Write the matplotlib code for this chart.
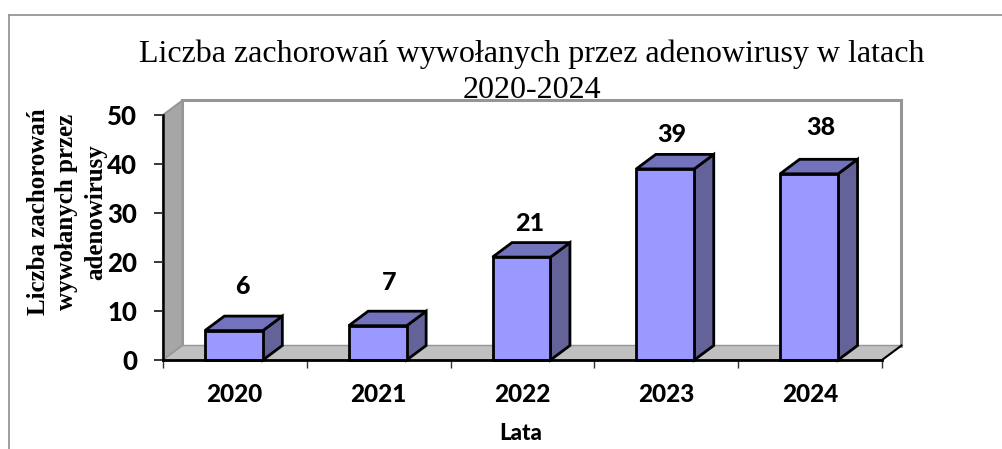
import matplotlib
matplotlib.use('Agg')
import matplotlib.pyplot as plt
from matplotlib.lines import Line2D
from matplotlib.patches import Polygon

years = ['2020', '2021', '2022', '2023', '2024']
cases = [6, 7, 21, 39, 38]
y_ticks = [0, 10, 20, 30, 40, 50]

W, H = 1002, 449
fig = plt.figure(figsize=(W / 100, H / 100), dpi=100)
ax = fig.add_axes([163 / W, 1 - 360 / H, (882 - 163) / W, (360 - 115) / H])
ax.set_xlim(0, len(years))
ax.set_ylim(0, 50)
ax.patch.set_visible(False)

# glebokosc wykresu 3D w jednostkach danych
dx = 19.5 / 144
dy = 14.5 / 4.9
bar_w = 0.403
bar_shift = 0.493
n = len(years)


def poly(points, face, edge, lw, z):
    ax.add_patch(Polygon(points, closed=True, facecolor=face, edgecolor=edge,
                         linewidth=lw, clip_on=False, zorder=z, joinstyle='miter'))


# sciany
poly([(dx, dy), (n + dx, dy), (n + dx, 50 + dy), (dx, 50 + dy)], 'white', '#969696', 2.2, 1)
poly([(0, 0), (dx, dy), (dx, 50 + dy), (0, 50)], '#a6a6a6', '#969696', 1.5, 2)
poly([(0, 0), (n, 0), (n + dx, dy), (dx, dy)], '#c0c0c0', '#969696', 1.0, 2)
ax.plot([n, n + dx], [0, dy], color='black', lw=1.5, clip_on=False, zorder=3)

# slupki
for i, v in enumerate(cases):
    x0 = i + bar_shift - bar_w / 2
    x1 = i + bar_shift + bar_w / 2
    poly([(x1, 0), (x1 + dx, dy), (x1 + dx, v + dy), (x1, v)], '#636399', 'black', 2.0, 4)
    poly([(x0, v), (x1, v), (x1 + dx, v + dy), (x0 + dx, v + dy)], '#7373bd', 'black', 2.0, 4)
    ax.bar(i + bar_shift, v, width=bar_w, color='#9999ff', edgecolor='black', linewidth=2.0,
           zorder=5, clip_on=False)

# etykiety wartosci (przesuniecia z oryginalu)
label_px = [(242, 286), (389, 283), (530, 223), (672, 134), (821, 127)]
for (px, py), v in zip(label_px, cases):
    fig.text(px / W, 1 - py / H, str(v), family='Lato', weight='black', fontsize=18,
             ha='center', va='center', color='black')

for s in ['top', 'right']:
    ax.spines[s].set_visible(False)
ax.spines['left'].set_linewidth(1.8)
ax.spines['bottom'].set_linewidth(2.0)
ax.spines['left'].set_zorder(6)
ax.spines['bottom'].set_zorder(6)

ax.set_yticks(y_ticks)
ax.set_xticks(range(n + 1))
ax.set_xticklabels([])
ax.tick_params(axis='y', length=6.5, width=1.1, pad=12)
ax.tick_params(axis='x', length=6, width=1.0, color='#333333')
for t in ax.get_yticklabels():
    t.set_family('Lato')
    t.set_weight('black')
    t.set_fontsize(18.5)

for i, y in enumerate(years):
    fig.text((234 + i * 144) / W, 1 - 394 / H, y, family='Lato', weight='black',
             fontsize=17.5, ha='center', va='center')

fig.text(521 / W, 1 - 433 / H, 'Lata', family='Lato', weight='black', fontsize=16,
         ha='center', va='center')

fig.text(531.5 / W, 1 - 72.5 / H,
         'Liczba zachorowań wywołanych przez adenowirusy w latach\n2020-2024',
         family='Liberation Serif', fontsize=23, ha='center', va='center',
         linespacing=1.33, zorder=-1)

fig.text(67 / W, 1 - 212 / H, 'Liczba zachorowań\nwywołanych przez\nadenowirusy',
         family='Liberation Serif', weight='bold', fontsize=18, rotation=90,
         ha='center', va='center', linespacing=1.3)

# ramka obszaru wykresu
fig.add_artist(Line2D([8.5 / W, 8.5 / W], [1 - 14.5 / H, 0], color='#969696', lw=1.3))
fig.add_artist(Line2D([8.5 / W, 1], [1 - 14.5 / H, 1 - 14.5 / H], color='#969696', lw=1.3))

fig.savefig('out.png', dpi=100)
